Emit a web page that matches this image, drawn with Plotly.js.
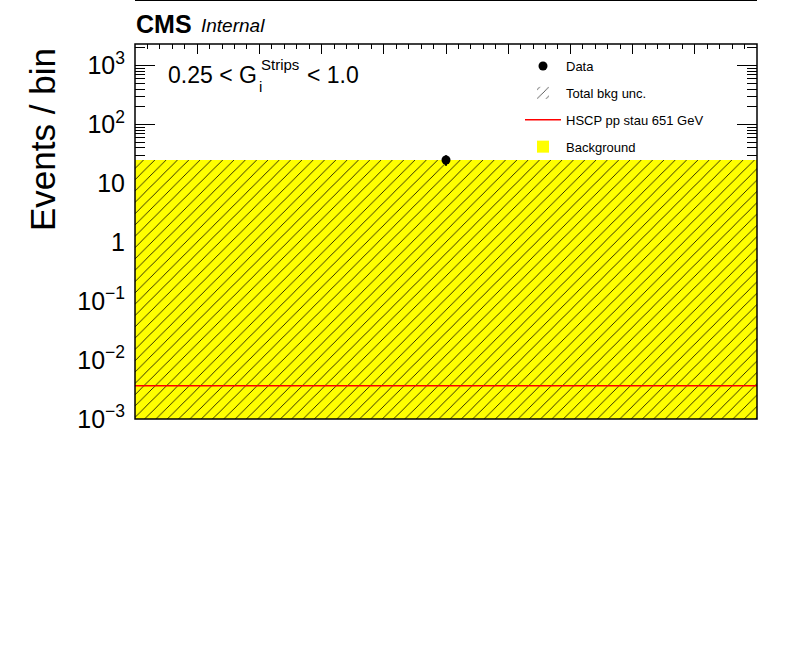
<!DOCTYPE html>
<html>
<head>
<meta charset="utf-8">
<script src="https://cdn.plot.ly/plotly-3.0.1.min.js"></script>
<style>html,body{margin:0;padding:0;background:#fff;}#chart{width:796px;height:672px;}</style>
</head>
<body>
<div id="chart"></div>
<script>
// ---- data (single bin) ----
const xEdges = [0, 1];
const binCenters = [0.5];
const binWidths = [1];
const dataY = [25];
const dataErr = [5];
const bkgY = [25.3];
const bkgUncY = [25.3];
const sigY = [0.00367];

// ---- axis ticks ----
const yTickVals = [1e-3, 1e-2, 1e-1, 1, 10, 100, 1000];
const yTickText = ['10<sup>\u22123</sup>', '10<sup>\u22122</sup>', '10<sup>\u22121</sup>', '1', '10', '10<sup>2</sup>', '10<sup>3</sup>'];
const yMinorVals = [];
for (let e = -3; e <= 3; e++) for (let m = 2; m <= 9; m++) yMinorVals.push(m * Math.pow(10, e));

const FONT = 'Liberation Sans, Arial, Helvetica, sans-serif';

const traces = [
  {
    type: 'bar', name: 'Background', x: binCenters, y: bkgY, width: binWidths,
    marker: {color: '#ffff00', line: {width: 0}},
    legendgroup: 'g4', legendrank: 4, hoverinfo: 'skip'
  },
  {
    type: 'bar', name: 'Total bkg unc.', x: binCenters, y: bkgUncY, width: binWidths,
    marker: {color: 'black', line: {width: 0},
      pattern: {shape: '/', fillmode: 'replace', bgcolor: 'rgba(0,0,0,0)', fgcolor: 'black', size: 8, solidity: 0.1}},
    legendgroup: 'g2', legendrank: 2, hoverinfo: 'skip'
  },
  {
    type: 'scatter', mode: 'lines', name: 'HSCP pp stau 651 GeV',
    x: xEdges, y: sigY.concat([sigY[sigY.length - 1]]),
    line: {color: '#ff0000', width: 1.5, shape: 'hv'},
    legendgroup: 'g3', legendrank: 3, hoverinfo: 'skip'
  },
  {
    type: 'scatter', mode: 'markers', name: 'Data', x: binCenters, y: dataY,
    marker: {color: 'black', size: 9, symbol: 'circle'},
    error_y: {type: 'data', array: dataErr, visible: true, color: 'black', thickness: 2, width: 0},
    legendgroup: 'g1', legendrank: 1, hoverinfo: 'skip'
  }
];

const px = v => (v - 135) / 622;   // helper: pixel -> paper x
const py = v => (419 - v) / 375;   // helper: pixel -> paper y

const layout = {
  width: 796, height: 672,
  margin: {l: 135, r: 39, t: 44, b: 253},
  paper_bgcolor: 'white', plot_bgcolor: 'white',
  font: {family: FONT, color: 'black'},
  barmode: 'overlay', bargap: 0,
  showlegend: true,
  legend: {
    x: px(520), y: py(51), xanchor: 'left', yanchor: 'top',
    bgcolor: 'rgba(0,0,0,0)', font: {family: FONT, size: 13, color: 'black'},
    tracegroupgap: 7, itemwidth: 36, traceorder: 'grouped'
  },
  xaxis: {
    range: [0, 1], showgrid: false, zeroline: false, showline: false,
    showticklabels: false, ticks: 'inside', ticklen: 10, tickwidth: 1, tickcolor: 'black',
    tick0: 0, dtick: 0.1, mirror: 'allticks', layer: 'below traces',
    minor: {ticks: 'inside', ticklen: 5, tickwidth: 1, tickcolor: 'black', dtick: 0.02, tick0: 0, showgrid: false}
  },
  yaxis: {
    type: 'log', range: [-3, 3.367], showgrid: false, zeroline: false, showline: false,
    tickmode: 'array', tickvals: yTickVals, ticktext: yTickText,
    ticks: 'inside', ticklen: 20, tickwidth: 1, tickcolor: 'black', mirror: 'allticks',
    layer: 'below traces', ticklabelstandoff: 9,
    tickfont: {family: FONT, size: 25, color: 'black'},
    minor: {ticks: 'inside', ticklen: 10, tickwidth: 1, tickcolor: 'black', tickmode: 'array', tickvals: yMinorVals, showgrid: false},
    automargin: false
  },
  shapes: [
    {type: 'rect', xref: 'paper', yref: 'paper', x0: 0, x1: 1, y0: 0, y1: 1, line: {color: 'black', width: 1.5}, layer: 'above'},
    {type: 'line', xref: 'paper', yref: 'paper', x0: 0, x1: 1, y0: py(0.5), y1: py(0.5), line: {color: 'black', width: 1}, layer: 'above'}
  ],
  annotations: [
    {xref: 'paper', yref: 'paper', x: px(42), y: py(140), xanchor: 'center', yanchor: 'middle', showarrow: false,
     textangle: -90, text: 'Events / bin', font: {family: FONT, size: 35, color: 'black'}},
    {xref: 'paper', yref: 'paper', x: px(134), y: py(24), xanchor: 'left', yanchor: 'middle', showarrow: false,
     text: '<b>CMS</b>', font: {family: FONT, size: 25, color: 'black'}},
    {xref: 'paper', yref: 'paper', x: px(199), y: py(26), xanchor: 'left', yanchor: 'middle', showarrow: false,
     text: '<i>Internal</i>', font: {family: FONT, size: 19, color: 'black'}},
    {xref: 'paper', yref: 'paper', x: px(166), y: py(75), xanchor: 'left', yanchor: 'middle', showarrow: false,
     text: '0.25 &lt; G', font: {family: FONT, size: 23, color: 'black'}},
    {xref: 'paper', yref: 'paper', x: px(259), y: py(64), xanchor: 'left', yanchor: 'middle', showarrow: false,
     text: 'Strips', font: {family: FONT, size: 15, color: 'black'}},
    {xref: 'paper', yref: 'paper', x: px(257), y: py(86), xanchor: 'left', yanchor: 'middle', showarrow: false,
     text: 'i', font: {family: FONT, size: 15, color: 'black'}},
    {xref: 'paper', yref: 'paper', x: px(305), y: py(75), xanchor: 'left', yanchor: 'middle', showarrow: false,
     text: '&lt; 1.0', font: {family: FONT, size: 23, color: 'black'}}
  ]
};

Plotly.newPlot('chart', traces, layout, {displayModeBar: false, staticPlot: true});
</script>
</body>
</html>
